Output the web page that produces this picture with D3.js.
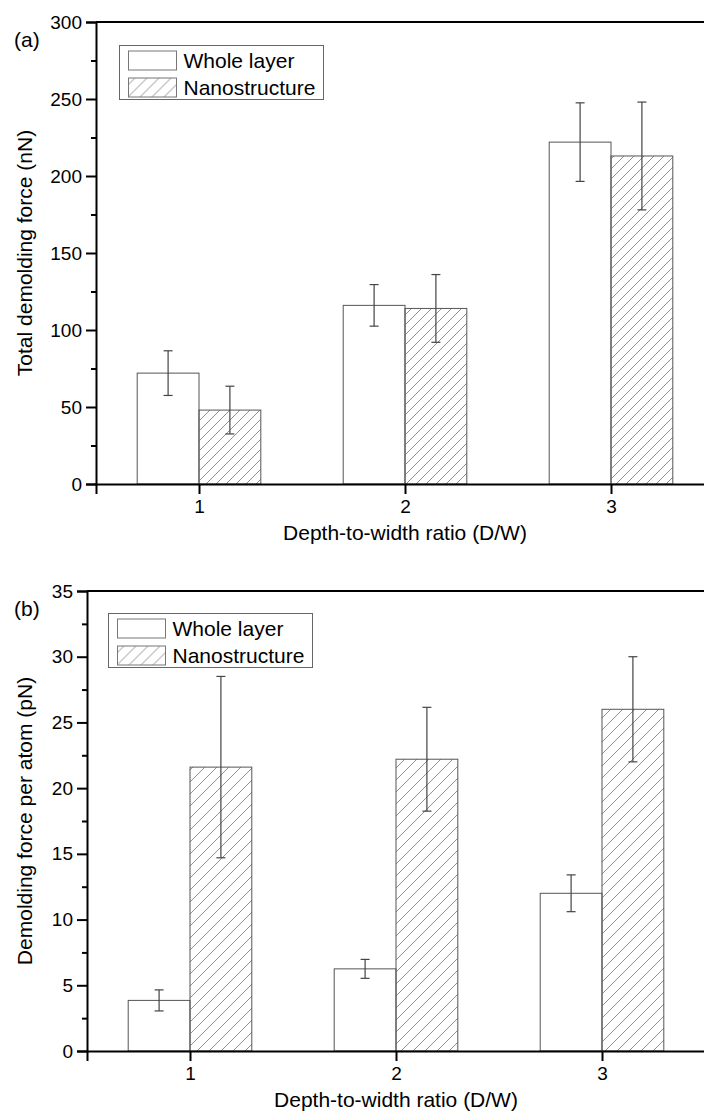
<!DOCTYPE html>
<html>
<head>
<meta charset="utf-8">
<script src="https://cdn.jsdelivr.net/npm/d3@7"></script>
<style>
  body { margin: 0; background: #fff; }
  svg { display: block; font-family: "Liberation Sans", Arial, sans-serif; }
</style>
</head>
<body>
<svg id="chart" width="704" height="1111"></svg>
<script>
// depth-to-width ratios on the x axis
var ratios = [1, 2, 3];
var seriesNames = ["Whole layer", "Nanostructure"];

// (a) total demolding force, nN
var totalWhole = [72, 116, 222],
    totalWholeErr = [14.5, 13.5, 25.5],
    totalNano = [48, 114, 213],
    totalNanoErr = [15.5, 22, 35];

// (b) demolding force per atom, pN
var atomWhole = [3.85, 6.25, 12.0],
    atomWholeErr = [0.8, 0.72, 1.4],
    atomNano = [21.6, 22.2, 26.0],
    atomNanoErr = [6.9, 3.95, 4.0];

var svg = d3.select("#chart");
var defs = svg.append("defs");

// hatch for the nanostructure bars, one per panel
function make_hatch(id, s) {
    defs.append("pattern")
        .attr("id", id)
        .attr("patternUnits", "userSpaceOnUse")
        .attr("width", s).attr("height", s)
      .append("path")
        .attr("d", "M-2,2 L2,-2 M0," + s + " L" + s + ",0 M" + (s - 2) + "," + (s + 2) + " L" + (s + 2) + "," + (s - 2))
        .attr("stroke", "#858585")
        .attr("stroke-width", 0.9)
        .attr("fill", "none");
}
make_hatch("hatch-a", 10);
make_hatch("hatch-b", 12);

function draw_panel(cfg) {
    var g = svg.append("g");

    var x = d3.scaleLinear().domain([0.5, 3.5]).range([cfg.left, cfg.left + 618]),
        y = d3.scaleLinear().domain([0, cfg.ymax]).range([cfg.bottom, cfg.top]);

    var bw = x(1.3) - x(1);

    var series = [
        {vals: cfg.whole, errs: cfg.wholeErr, off: -1, fill: "#fff"},
        {vals: cfg.nano, errs: cfg.nanoErr, off: 0, fill: "url(#" + cfg.hatch + ")"}
    ];

    series.forEach(s => {
        g.append("g").selectAll("rect")
            .data(ratios)
            .enter().append("rect")
            .attr("x", (d, i) => x(d) + s.off * bw)
            .attr("y", (d, i) => y(s.vals[i]))
            .attr("width", bw)
            .attr("height", (d, i) => y(0) - y(s.vals[i]))
            .attr("fill", s.fill)
            .attr("stroke", "#555")
            .attr("stroke-width", 1);
    });

    // error bars
    series.forEach(s => {
        var eg = g.append("g").attr("stroke", "#444").attr("stroke-width", 1.2);
        ratios.forEach((d, i) => {
            var cx = x(d) + s.off * bw + bw / 2,
                hi = y(s.vals[i] + s.errs[i]),
                lo = y(s.vals[i] - s.errs[i]);
            eg.append("line").attr("x1", cx).attr("x2", cx).attr("y1", hi).attr("y2", lo);
            eg.append("line").attr("x1", cx - 4.5).attr("x2", cx + 4.5).attr("y1", hi).attr("y2", hi);
            eg.append("line").attr("x1", cx - 4.5).attr("x2", cx + 4.5).attr("y1", lo).attr("y2", lo);
        });
    });

    // axes
    g.append("g").attr("transform", "translate(" + [cfg.left, 0] + ")")
        .call(d3.axisLeft(y).tickValues(d3.range(0, cfg.ymax + 0.001, cfg.ystep)).tickSize(10).tickPadding(4));
    g.append("g").attr("transform", "translate(" + [cfg.left, 0] + ")")
        .call(d3.axisLeft(y).tickValues(d3.range(cfg.ystep / 2, cfg.ymax, cfg.ystep)).tickSize(5).tickFormat(""))
        .call(a => a.select(".domain").remove());

    g.append("g").attr("transform", "translate(" + [0, cfg.bottom] + ")")
        .call(d3.axisBottom(x).tickValues(ratios).tickFormat(d3.format("d")).tickSize(10).tickPadding(6));

    g.selectAll(".tick text").style("font-size", "19px").attr("fill", "#000")
        .style("font-family", "'Liberation Sans', Arial, sans-serif");
    g.selectAll(".domain").attr("stroke-width", 2).attr("stroke", "#000");
    g.selectAll(".tick line").attr("stroke-width", 2).attr("stroke", "#000");

    // top frame line
    g.append("line")
        .attr("x1", cfg.left).attr("x2", 704)
        .attr("y1", cfg.top).attr("y2", cfg.top)
        .attr("stroke", "#000").attr("stroke-width", 2);

    // titles
    g.append("text")
        .attr("x", x(2)).attr("y", cfg.bottom + 56)
        .attr("text-anchor", "middle").style("font-size", "21px")
        .text("Depth-to-width ratio (D/W)");
    g.append("text")
        .attr("transform", "translate(" + [32, (cfg.top + cfg.bottom) / 2] + ") rotate(-90)")
        .attr("text-anchor", "middle").style("font-size", "21px")
        .text(cfg.ylabel);
    g.append("text")
        .attr("x", 14).attr("y", cfg.top + 25)
        .style("font-size", "21px")
        .text(cfg.tag);

    // legend
    var lg = g.append("g").attr("transform", "translate(" + [cfg.legX, cfg.legY] + ")");
    lg.append("rect").attr("width", 204).attr("height", 54)
        .attr("fill", "#fff").attr("stroke", "#666").attr("stroke-width", 1);
    seriesNames.forEach((name, i) => {
        lg.append("rect")
            .attr("x", 9).attr("y", 5.5 + i * 27)
            .attr("width", 48).attr("height", 19)
            .attr("fill", i ? "url(#hatch-b)" : "#fff")
            .attr("stroke", "#777").attr("stroke-width", 1);
        lg.append("text")
            .attr("x", 64).attr("y", 22.5 + i * 27)
            .style("font-size", "21px")
            .text(name);
    });
}

draw_panel({
    tag: "(a)", ylabel: "Total demolding force (nN)", hatch: "hatch-a",
    left: 96, top: 22, bottom: 484, ymax: 300, ystep: 50,
    whole: totalWhole, wholeErr: totalWholeErr, nano: totalNano, nanoErr: totalNanoErr,
    legX: 119.5, legY: 45.5
});

draw_panel({
    tag: "(b)", ylabel: "Demolding force per atom (pN)", hatch: "hatch-b",
    left: 87, top: 591, bottom: 1051, ymax: 35, ystep: 5,
    whole: atomWhole, wholeErr: atomWholeErr, nano: atomNano, nanoErr: atomNanoErr,
    legX: 108.5, legY: 613.5
});
</script>
</body>
</html>
